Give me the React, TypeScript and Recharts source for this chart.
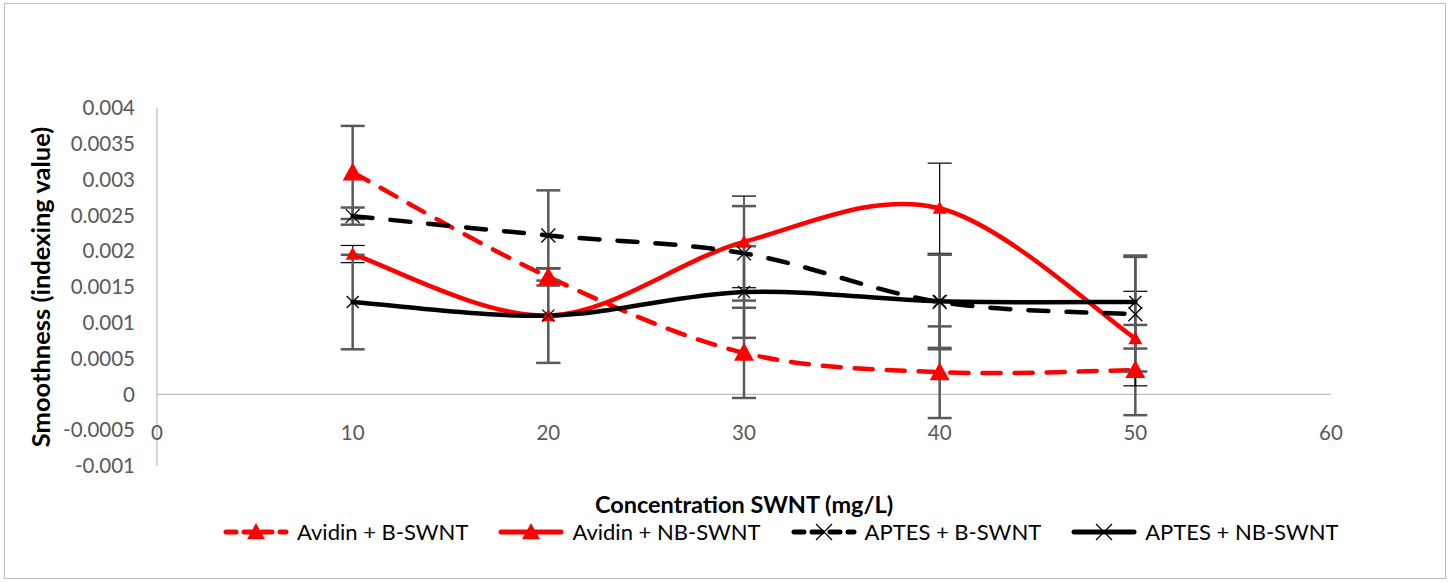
import React from 'react';
import { LineChart, Line, XAxis, YAxis, ErrorBar, ReferenceLine, Label } from 'recharts';

const concentrations = [10, 20, 30, 40, 50];

const avidinB = [0.0031, 0.00164, 0.00058, 0.00031, 0.00034];
const avidinBErr = [0.00065, 0.00012, 0.00063, 0.00064, 0.00063];

const avidinNB = [0.00196, 0.0011, 0.00213, 0.0026, 0.00078];
const avidinNBErr = [0.00012, 0.00066, 0.00064, 0.00063, 0.00066];

const aptesB = [0.00249, 0.00222, 0.00197, 0.00129, 0.00112];
const aptesBErr = [0.00012, 0.00063, 0.00066, 0.00066, 0.0008];

const aptesNB = [0.00129, 0.0011, 0.00143, 0.0013, 0.00129];
const aptesNBErr = [0.00066, 0.00066, 0.00064, 0.00065, 0.00065];

const xTicks = [0, 10, 20, 30, 40, 50, 60];
const yTicks = [-0.001, -0.0005, 0, 0.0005, 0.001, 0.0015, 0.002, 0.0025, 0.003, 0.0035, 0.004];

const data = concentrations.map((x, i) => ({
  x,
  avidinB: avidinB[i],
  avidinBErr: avidinBErr[i],
  avidinNB: avidinNB[i],
  avidinNBErr: avidinNBErr[i],
  aptesB: aptesB[i],
  aptesBErr: aptesBErr[i],
  aptesNB: aptesNB[i],
  aptesNBErr: aptesNBErr[i],
}));

type Marker = 'triangle' | 'cross';

const series = [
  { key: 'avidinB', name: 'Avidin + B-SWNT', color: '#ff0000', dash: '18 14', marker: 'triangle' as Marker, size: 20, errColor: '#595959', errWidth: 2.5 },
  { key: 'avidinNB', name: 'Avidin + NB-SWNT', color: '#ff0000', dash: undefined, marker: 'triangle' as Marker, size: 14, errColor: '#000000', errWidth: 1.2 },
  { key: 'aptesB', name: 'APTES + B-SWNT', color: '#000000', dash: '20 18', marker: 'cross' as Marker, size: 14, errColor: '#595959', errWidth: 2.5 },
  { key: 'aptesNB', name: 'APTES + NB-SWNT', color: '#000000', dash: undefined, marker: 'cross' as Marker, size: 12, errColor: '#595959', errWidth: 2.5 },
];

// Excel-like smoothed line (Catmull-Rom style bezier)
const excelSmooth = (context: any) => {
  let pts: number[][] = [];
  return {
    areaStart() {},
    areaEnd() {},
    lineStart() {
      pts = [];
    },
    point(x: number, y: number) {
      pts.push([+x, +y]);
    },
    lineEnd() {
      if (!pts.length) return;
      context.moveTo(pts[0][0], pts[0][1]);
      for (let i = 0; i < pts.length - 1; i++) {
        const p0 = pts[i - 1] || pts[i];
        const p1 = pts[i];
        const p2 = pts[i + 1];
        const p3 = pts[i + 2] || p2;
        context.bezierCurveTo(
          p1[0] + (p2[0] - p0[0]) / 6,
          p1[1] + (p2[1] - p0[1]) / 6,
          p2[0] - (p3[0] - p1[0]) / 6,
          p2[1] - (p3[1] - p1[1]) / 6,
          p2[0],
          p2[1]
        );
      }
    },
  };
};

const MarkerShape = ({ cx, cy, type, size, color }: { cx: number; cy: number; type: Marker; size: number; color: string }) => {
  const h = size / 2;
  if (type === 'triangle') {
    return <polygon points={`${cx},${cy - h} ${cx + h},${cy + h * 0.8} ${cx - h},${cy + h * 0.8}`} fill={color} />;
  }
  return (
    <g stroke={color} strokeWidth={1.3}>
      <line x1={cx - h} y1={cy - h} x2={cx + h} y2={cy + h} />
      <line x1={cx - h} y1={cy + h} x2={cx + h} y2={cy - h} />
    </g>
  );
};

const fmt = (v: number) => (v === 0 ? '0' : String(Number(v.toFixed(4))));

const font = 'Lato, "Open Sans", sans-serif';

const XTick = ({ x, y, payload }: any) => (
  <text x={x} y={y - 42} textAnchor="middle" dominantBaseline="central" fill="#595959" fontSize={20.5} fontFamily={font}>
    {payload.value}
  </text>
);

const LegendIcon = ({ s }: { s: (typeof series)[number] }) => (
  <svg width={68} height={22} style={{ display: 'block' }}>
    <line x1={4} y1={11} x2={64} y2={11} stroke={s.color} strokeWidth={5} strokeDasharray={s.dash ? '10 8' : undefined} strokeLinecap="round" />
    <MarkerShape cx={34} cy={11} type={s.marker} size={s.marker === 'triangle' ? 18 : 16} color={s.color} />
  </svg>
);

export default function App() {
  return (
    <div style={{ position: 'relative', width: 1452, height: 583, background: '#fff', fontFamily: font }}>
      <style>{'body{margin:0}'}</style>
      <div style={{ position: 'absolute', left: 4, top: 3, width: 1442, height: 576, border: '1.5px solid #bfbfbf', boxSizing: 'border-box', zIndex: 2, pointerEvents: 'none' }} />
      <LineChart
        width={1452}
        height={583}
        data={data}
        margin={{ top: 108, right: 121, left: 57, bottom: 87 }}
        style={{ position: 'absolute', left: 0, top: 0 }}
      >
        <XAxis
          type="number"
          dataKey="x"
          domain={[0, 60]}
          ticks={xTicks}
          axisLine={false}
          tickLine={false}
          height={30}
          tick={<XTick />}
          interval={0}
        >
          <Label
            content={({ viewBox }: any) => (
              <text x={viewBox.x + viewBox.width / 2} y={viewBox.y + 38} textAnchor="middle" dominantBaseline="central" fontWeight="bold" fontSize={23.5} fontFamily={font} fill="#000">
                Concentration SWNT (mg/L)
              </text>
            )}
          />
        </XAxis>
        <YAxis
          type="number"
          domain={[-0.001, 0.004]}
          ticks={yTicks}
          width={100}
          interval={0}
          tickFormatter={fmt}
          axisLine={{ stroke: '#bfbfbf', strokeWidth: 1.3 }}
          tickLine={false}
          tickMargin={16}
          tick={{ fill: '#595959', fontSize: 20.5, fontFamily: font }}
        >
          <Label
            content={({ viewBox }: any) => {
              const cx = viewBox.x - 17;
              const cy = viewBox.y + viewBox.height / 2;
              return (
                <text x={cx} y={cy} transform={`rotate(-90 ${cx} ${cy})`} textAnchor="middle" dominantBaseline="central" fontWeight="bold" fontSize={25.5} fontFamily={font} fill="#000">
                  Smoothness (indexing value)
                </text>
              );
            }}
          />
        </YAxis>
        <ReferenceLine y={0} stroke="#bfbfbf" strokeWidth={1.3} />
        {series.map((s) => (
          <Line
            key={s.key}
            dataKey={s.key}
            name={s.name}
            type={excelSmooth as any}
            stroke={s.color}
            strokeWidth={4.5}
            strokeDasharray={s.dash}
            strokeLinecap="round"
            isAnimationActive={false}
            activeDot={false}
            dot={(p: any) => <MarkerShape key={`${s.key}-${p.index}`} cx={p.cx} cy={p.cy} type={s.marker} size={s.size} color={s.color} />}
          >
            <ErrorBar dataKey={`${s.key}Err`} direction="y" width={12} stroke={s.errColor} strokeWidth={s.errWidth} isAnimationActive={false} />
          </Line>
        ))}
      </LineChart>
      <div style={{ position: 'absolute', left: 222, top: 521, display: 'flex', alignItems: 'center', gap: 29 }}>
        {series.map((s) => (
          <div key={s.key} style={{ display: 'flex', alignItems: 'center', gap: 7 }}>
            <LegendIcon s={s} />
            <span style={{ fontSize: 22, lineHeight: '22px', color: '#000', whiteSpace: 'nowrap' }}>{s.name}</span>
          </div>
        ))}
      </div>
    </div>
  );
}
